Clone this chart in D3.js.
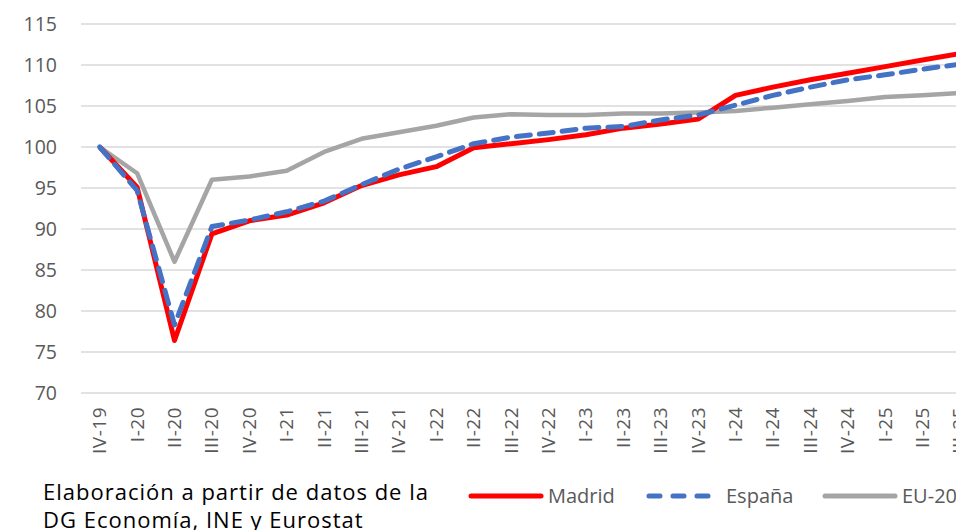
<!DOCTYPE html>
<meta charset="utf-8">
<style>
body { margin: 0; overflow: hidden; background: #fff; }
svg text { font-family: "Open Sans", Lato, sans-serif; }
.grid line { stroke: #d9d9d9; stroke-width: 1.5px; }
.tick-label { fill: #595959; }
</style>
<body>
<svg id="chart" width="1000" height="530"></svg>
<script src="https://d3js.org/d3.v7.min.js"></script>
<script>
var quarters = ["IV-19","I-20","II-20","III-20","IV-20","I-21","II-21","III-21","IV-21","I-22",
  "II-22","III-22","IV-22","I-23","II-23","III-23","IV-23","I-24","II-24","III-24","IV-24",
  "I-25","II-25","III-25"];

var madrid = [100, 95.1, 76.4, 89.4, 91.0, 91.7, 93.2, 95.3, 96.6, 97.6, 99.9, 100.4, 100.9,
  101.5, 102.3, 102.8, 103.4, 106.3, 107.3, 108.2, 109.0, 109.8, 110.6, 111.4];
var espana = [100, 94.7, 78.3, 90.3, 91.1, 92.1, 93.4, 95.4, 97.3, 98.8, 100.4, 101.2, 101.7,
  102.3, 102.5, 103.3, 103.9, 105.1, 106.3, 107.3, 108.2, 108.8, 109.5, 110.1];
var eu20 = [100, 96.8, 86.0, 96.0, 96.4, 97.1, 99.4, 101.0, 101.8, 102.6, 103.6, 104.0, 103.9,
  103.9, 104.1, 104.1, 104.2, 104.4, 104.8, 105.2, 105.6, 106.1, 106.3, 106.6];

var yTicks = [70, 75, 80, 85, 90, 95, 100, 105, 110, 115];

var series = [
  {name: "Madrid", values: madrid, color: "#ff0000", width: 5, dash: null},
  {name: "España", values: espana, color: "#4472c4", width: 5, dash: "14,9"},
  {name: "EU-20", values: eu20, color: "#a5a5a5", width: 4.5, dash: null}
];

var svg = d3.select("#chart");
var left = 81, step = 37.4;

var x = d3.scalePoint().domain(quarters).range([left, left + step * quarters.length]).padding(0.5);
var y = d3.scaleLinear().domain([70, 115]).range([393, 24]);

// gridlines
svg.append("g").attr("class", "grid")
  .selectAll("line").data(yTicks).enter().append("line")
  .attr("x1", left).attr("x2", 1000)
  .attr("y1", d => y(d)).attr("y2", d => y(d));

// y labels
svg.append("g").selectAll("text").data(yTicks).enter().append("text")
  .attr("class", "tick-label")
  .attr("x", 57).attr("y", d => y(d)).attr("dy", "0.35em")
  .attr("text-anchor", "end").attr("font-size", 19.5)
  .text(d => d);

// x labels, rotated
svg.append("g").selectAll("text").data(quarters).enter().append("text")
  .attr("class", "tick-label")
  .attr("transform", d => "translate(" + (x(d) + 6.5) + ",407) rotate(-90)")
  .attr("text-anchor", "end").attr("font-size", 19).attr("letter-spacing", 0.5)
  .text(d => d);

var line = d3.line()
  .x((d, i) => x(quarters[i]))
  .y(d => y(d));

// draw EU first, then Madrid, then Espana on top
[series[2], series[0], series[1]].forEach(function(s) {
  svg.append("path")
    .datum(s.values)
    .attr("fill", "none")
    .attr("stroke", s.color)
    .attr("stroke-width", s.width)
    .attr("stroke-linejoin", "round")
    .attr("stroke-linecap", s.dash ? "round" : "butt")
    .attr("stroke-dasharray", s.dash)
    .attr("d", line);
});

// legend
var legX = [471, 649, 825];
var leg = svg.append("g").selectAll("g").data(series).enter().append("g")
  .attr("transform", (d, i) => "translate(" + legX[i] + ",496)");
leg.append("line")
  .attr("x1", 0).attr("x2", 70).attr("y1", 0).attr("y2", 0)
  .attr("stroke", d => d.color).attr("stroke-width", 5)
  .attr("stroke-linecap", "round")
  .attr("stroke-dasharray", d => d.dash ? "11,13" : null);
leg.append("text")
  .attr("class", "tick-label")
  .attr("x", 77).attr("y", 0).attr("dy", "0.35em")
  .attr("font-size", 20)
  .text(d => d.name);

// source note
var note = svg.append("text").attr("font-size", 22).attr("letter-spacing", 1).attr("fill", "#000");
note.append("tspan").attr("x", 43).attr("y", 500).text("Elaboración a partir de datos de la");
note.append("tspan").attr("x", 43).attr("y", 528).text("DG Economía, INE y Eurostat");
</script>
</body>
